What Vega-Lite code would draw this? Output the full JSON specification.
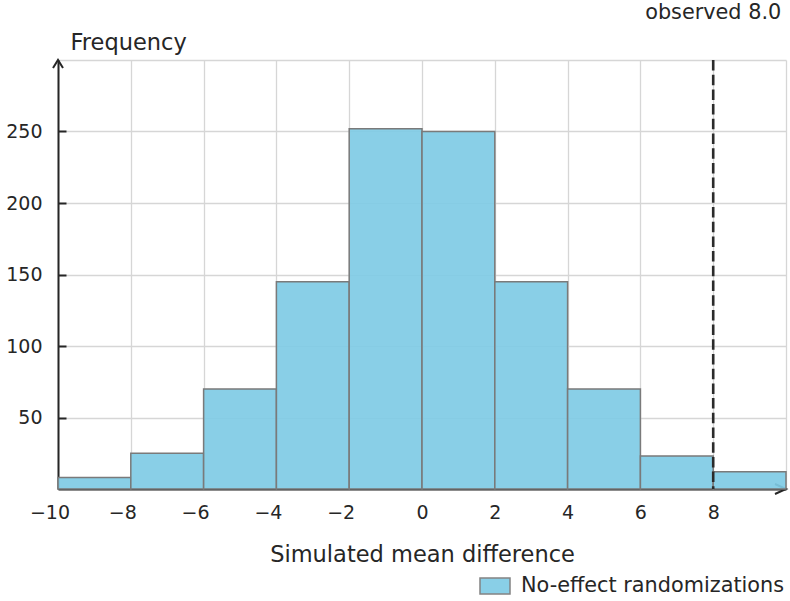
{
  "$schema": "https://vega.github.io/schema/vega-lite/v6.json",
  "width": 728,
  "height": 429,
  "autosize": {"type": "none"},
  "padding": {"left": 58, "top": 60, "right": 4, "bottom": 112},
  "background": "white",
  "config": {
    "view": {"stroke": null},
    "font": "DejaVu Sans",
    "axis": {
      "labelColor": "#262626",
      "titleColor": "#262626",
      "titleFontWeight": "normal",
      "domainColor": "#262626",
      "domainWidth": 2,
      "gridColor": "#d6d6d6",
      "gridWidth": 1.3,
      "labelFontSize": 19,
      "titleFontSize": 22.5,
      "labelOverlap": false,
      "labelFlush": false
    }
  },
  "datasets": {
    "bins": [
      {"start": -10, "end": -8, "count": 8, "series": "No-effect randomizations"},
      {"start": -8, "end": -6, "count": 25, "series": "No-effect randomizations"},
      {"start": -6, "end": -4, "count": 70, "series": "No-effect randomizations"},
      {"start": -4, "end": -2, "count": 145, "series": "No-effect randomizations"},
      {"start": -2, "end": 0, "count": 252, "series": "No-effect randomizations"},
      {"start": 0, "end": 2, "count": 250, "series": "No-effect randomizations"},
      {"start": 2, "end": 4, "count": 145, "series": "No-effect randomizations"},
      {"start": 4, "end": 6, "count": 70, "series": "No-effect randomizations"},
      {"start": 6, "end": 8, "count": 23, "series": "No-effect randomizations"},
      {"start": 8, "end": 10, "count": 12, "series": "No-effect randomizations"}
    ],
    "observed": [{"observed": 8.0, "label": "observed 8.0"}]
  },
  "layer": [
    {
      "data": {"name": "observed"},
      "mark": {
        "type": "point",
        "shape": "M-1,1.6L0,0L1,1.6",
        "size": 100,
        "filled": false,
        "stroke": "#262626",
        "strokeWidth": 2,
        "opacity": 1
      },
      "encoding": {
        "x": {"datum": -10, "type": "quantitative"},
        "y": {"datum": 300, "type": "quantitative"}
      }
    },
    {
      "data": {"name": "observed"},
      "mark": {
        "type": "point",
        "shape": "M-2.2,-1L0,0L-2.2,1",
        "size": 100,
        "filled": false,
        "stroke": "#262626",
        "strokeWidth": 2,
        "opacity": 1
      },
      "encoding": {
        "x": {"datum": 10, "type": "quantitative"},
        "y": {"datum": 0, "type": "quantitative"}
      }
    },
    {
      "data": {"name": "bins"},
      "mark": {
        "type": "bar",
        "fillOpacity": 0.92,
        "stroke": "#7a7a7a",
        "strokeWidth": 1.5
      },
      "encoding": {
        "x": {
          "field": "start",
          "type": "quantitative",
          "title": "Simulated mean difference",
          "scale": {"domain": [-10, 10], "nice": false, "zero": false},
          "axis": {
            "values": [-10, -8, -6, -4, -2, 0, 2, 4, 6, 8, 10],
            "labelExpr": "datum.value >= 10 ? '' : datum.label",
            "labelOffset": {"condition": {"test": "datum.value < 0", "value": -8.5}, "value": 0},
            "ticks": false,
            "labelPadding": 14,
            "grid": true,
            "titleY": 72,
            "titleBaseline": "alphabetic"
          }
        },
        "x2": {"field": "end"},
        "y": {
          "field": "count",
          "type": "quantitative",
          "title": "Frequency",
          "scale": {"domain": [0, 300], "nice": false},
          "axis": {
            "values": [0, 50, 100, 150, 200, 250, 300],
            "labelExpr": "datum.value == 0 || datum.value >= 300 ? '' : datum.label",
            "tickSize": -8,
            "tickWidth": 2,
            "tickColor": "#262626",
            "tickOpacity": {"condition": {"test": "datum.value == 0 || datum.value >= 300", "value": 0}, "value": 1},
            "labelPadding": 24,
            "grid": true,
            "titleAngle": 0,
            "titleAlign": "left",
            "titleX": 12,
            "titleY": -11,
            "titleBaseline": "alphabetic"
          }
        },
        "y2": {"datum": 0},
        "color": {
          "field": "series",
          "type": "nominal",
          "scale": {"range": ["#7fcbe5"]},
          "legend": {
            "orient": "none",
            "legendX": 421,
            "legendY": 510,
            "title": null,
            "symbolType": "M-1,-0.53H1V0.53H-1Z",
            "symbolSize": 900,
            "symbolStrokeColor": "#7a7a7a",
            "symbolStrokeWidth": 1.5,
            "symbolOpacity": 0.92,
            "labelFontSize": 20.8,
            "labelLimit": 0,
            "labelColor": "#262626",
            "labelOffset": 10
          }
        }
      }
    },
    {
      "data": {"name": "observed"},
      "mark": {
        "type": "rule",
        "color": "#2b2b2b",
        "strokeWidth": 2.6,
        "strokeDash": [10.5, 4.2]
      },
      "encoding": {
        "x": {"field": "observed", "type": "quantitative"}
      }
    },
    {
      "data": {"name": "observed"},
      "mark": {
        "type": "text",
        "align": "center",
        "baseline": "alphabetic",
        "dy": -41,
        "fontSize": 20.8,
        "color": "#262626"
      },
      "encoding": {
        "x": {"field": "observed", "type": "quantitative"},
        "y": {"datum": 300, "type": "quantitative"},
        "text": {"field": "label"}
      }
    }
  ]
}
